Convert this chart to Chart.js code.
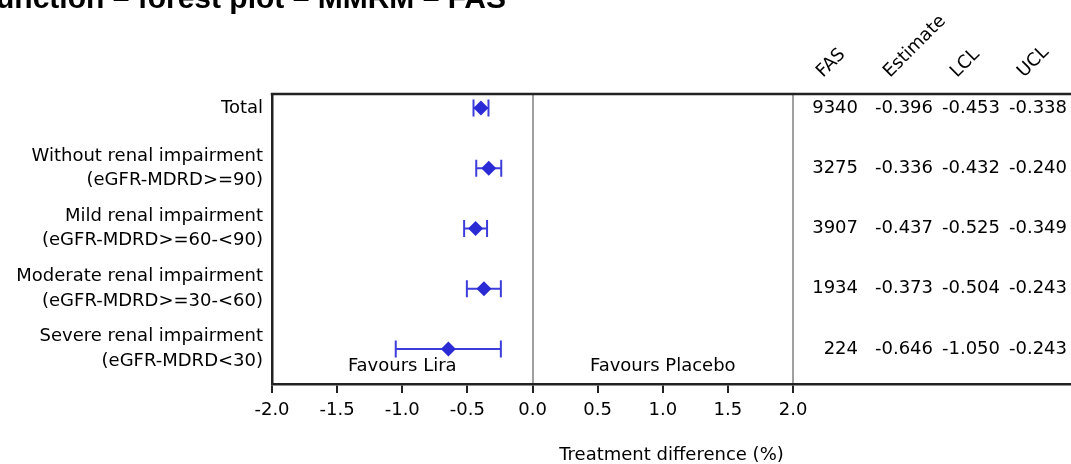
<!DOCTYPE html>
<html>
<head>
<meta charset="utf-8">
<script src="https://cdn.jsdelivr.net/npm/chart.js@4/dist/chart.umd.min.js"></script>
<style>
  html, body { margin: 0; padding: 0; background: #fff; }
  #wrap { width: 1071px; height: 464px; position: relative; }
</style>
</head>
<body>
<div id="wrap"><canvas id="forest"></canvas></div>
<script>
// Données du forest plot
const rowLabels = [
    ['Total'],
    ['Without renal impairment', '(eGFR-MDRD>=90)'],
    ['Mild renal impairment', '(eGFR-MDRD>=60-<90)'],
    ['Moderate renal impairment', '(eGFR-MDRD>=30-<60)'],
    ['Severe renal impairment', '(eGFR-MDRD<30)']
];
const fasN = [9340, 3275, 3907, 1934, 224];
const estimate = [-0.396, -0.336, -0.437, -0.373, -0.646];
const lcl = [-0.453, -0.432, -0.525, -0.504, -1.050];
const ucl = [-0.338, -0.240, -0.349, -0.243, -0.243];
const xTicks = [-2.0, -1.5, -1.0, -0.5, 0.0, 0.5, 1.0, 1.5, 2.0];
const refLines = [0, 2];
const tableHeaders = ['FAS', 'Estimate', 'LCL', 'UCL'];

const FONT = '"DejaVu Sans", Verdana, sans-serif';
const BLUE = '#2b2bd6';

const forestExtras = {
    id: 'forestExtras',
    beforeDatasetsDraw(chart) {
        const { ctx, scales: { x, y } } = chart;
        ctx.save();
        ctx.strokeStyle = '#3d3ddc';
        ctx.lineWidth = 2;
        estimate.forEach((_, i) => {
            const py = y.getPixelForValue(i);
            const x1 = x.getPixelForValue(lcl[i]);
            const x2 = x.getPixelForValue(ucl[i]);
            ctx.beginPath();
            ctx.moveTo(x1, py); ctx.lineTo(x2, py);
            ctx.moveTo(x1, py - 8.5); ctx.lineTo(x1, py + 8.5);
            ctx.moveTo(x2, py - 8.5); ctx.lineTo(x2, py + 8.5);
            ctx.stroke();
        });
        ctx.restore();
    },
    afterDraw(chart) {
        const { ctx, chartArea: area, scales: { x, y } } = chart;
        ctx.save();

        // bord supérieur du cadre
        ctx.strokeStyle = '#222';
        ctx.lineWidth = 2.5;
        ctx.beginPath();
        ctx.moveTo(area.left - 1.25, area.top);
        ctx.lineTo(area.right, area.top);
        ctx.stroke();

        ctx.fillStyle = '#000';
        ctx.font = '18px ' + FONT;

        // tableau à droite
        const colRight = [area.right - 213, area.right - 138, area.right - 71, area.right - 4];
        ctx.textAlign = 'right';
        ctx.textBaseline = 'middle';
        fasN.forEach((n, i) => {
            const py = y.getPixelForValue(i);
            ctx.fillText(String(n), colRight[0], py);
            ctx.fillText(estimate[i].toFixed(3), colRight[1], py);
            ctx.fillText(lcl[i].toFixed(3), colRight[2], py);
            ctx.fillText(ucl[i].toFixed(3), colRight[3], py);
        });

        // en-têtes inclinés
        const headerX = [area.right - 248, area.right - 181, area.right - 114, area.right - 47];
        ctx.textAlign = 'left';
        ctx.textBaseline = 'alphabetic';
        tableHeaders.forEach((h, i) => {
            ctx.save();
            ctx.translate(headerX[i], area.top - 16);
            ctx.rotate(-Math.PI / 4);
            ctx.fillText(h, 0, 0);
            ctx.restore();
        });

        // Favours ...
        ctx.textAlign = 'center';
        ctx.textBaseline = 'middle';
        ctx.fillText('Favours Lira', x.getPixelForValue(-1), y.getPixelForValue(4.28));
        ctx.fillText('Favours Placebo', x.getPixelForValue(1), y.getPixelForValue(4.28));

        // titre de l'axe, centré sur tout l'axe
        ctx.fillText('Treatment difference (%)', (area.left + area.right) / 2, 455);

        // titre (coupé en haut de l'image)
        ctx.font = 'bold 30px "Liberation Sans", Arial, sans-serif';
        ctx.textAlign = 'right';
        ctx.textBaseline = 'alphabetic';
        ctx.fillText('Renal function \u2013 forest plot \u2013 MMRM \u2013 FAS', 506, 7.5);

        ctx.restore();
    }
};

new Chart(document.getElementById('forest'), {
    type: 'scatter',
    data: {
        datasets: [{
            data: estimate.map((v, i) => ({ x: v, y: i })),
            pointStyle: 'rectRot',
            pointRadius: 7.5,
            pointHoverRadius: 7.5,
            backgroundColor: BLUE,
            borderColor: BLUE,
            borderWidth: 0
        }]
    },
    options: {
        responsive: true,
        maintainAspectRatio: false,
        animation: false,
        layout: { autoPadding: false, padding: { top: 94, right: 0, bottom: 0, left: 0 } },
        plugins: {
            legend: { display: false },
            tooltip: { enabled: false }
        },
        scales: {
            x: {
                type: 'linear',
                min: -2,
                max: 4.134,
                afterBuildTicks: (scale) => { scale.ticks = xTicks.map(v => ({ value: v })); },
                afterFit: (scale) => {
                    scale.height = 80;
                    scale.paddingLeft = 0;
                    scale.paddingRight = 0;
                },
                ticks: {
                    color: '#000',
                    padding: 7,
                    font: { family: FONT, size: 18 },
                    callback: (v) => Number(v).toFixed(1)
                },
                grid: {
                    drawOnChartArea: true,
                    color: (c) => (c.tick && refLines.includes(c.tick.value)) ? '#a0a0a0' : 'rgba(0,0,0,0)',
                    lineWidth: 2,
                    tickColor: '#222',
                    tickLength: 9,
                    tickWidth: 2
                },
                border: { display: true, color: '#222', width: 2.5 }
            },
            y: {
                type: 'linear',
                reverse: true,
                min: -0.232,
                max: 4.581,
                afterBuildTicks: (scale) => { scale.ticks = rowLabels.map((_, i) => ({ value: i })); },
                afterFit: (scale) => {
                    scale.width = 272;
                    scale.paddingTop = 0;
                    scale.paddingBottom = 0;
                },
                ticks: {
                    color: '#000',
                    padding: 9,
                    font: { family: FONT, size: 18, lineHeight: 1.36 },
                    callback: (v) => rowLabels[v]
                },
                grid: { display: false, drawTicks: false },
                border: { display: true, color: '#222', width: 2.5 }
            }
        }
    },
    plugins: [forestExtras]
});
</script>
</body>
</html>
